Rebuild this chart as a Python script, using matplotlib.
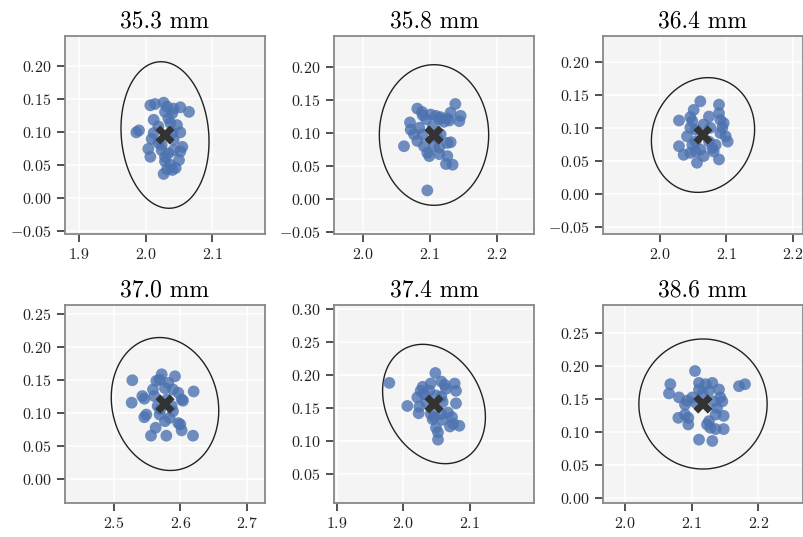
import numpy as np
import matplotlib
matplotlib.use("Agg")
import matplotlib.pyplot as plt
from matplotlib.patches import Polygon
from matplotlib.ticker import MultipleLocator

plt.rcParams["font.family"] = "cmr10"
plt.rcParams["mathtext.fontset"] = "cm"
plt.rcParams["axes.formatter.use_mathtext"] = True

titles = ["35.3 mm", "35.8 mm", "36.4 mm", "37.0 mm", "37.4 mm", "38.6 mm"]

p1_x = [2.007, 2.014, 2.027, 2.032, 2.029, 2.040, 2.052, 2.065, 2.012, 2.034, 2.047, 1.990, 1.986,
        2.012, 2.052, 2.009, 2.019, 2.042, 2.004, 2.007, 2.055, 2.052, 2.042, 2.034, 2.029, 2.050,
        2.032, 2.045, 2.040, 2.027, 2.037, 2.024, 2.019, 2.037, 2.024, 2.042, 2.040, 2.029]
p1_y = [0.141, 0.143, 0.145, 0.139, 0.131, 0.129, 0.138, 0.131, 0.119, 0.121, 0.111, 0.103, 0.100,
        0.099, 0.100, 0.090, 0.084, 0.089, 0.075, 0.063, 0.078, 0.071, 0.073, 0.068, 0.056, 0.058,
        0.044, 0.046, 0.043, 0.037, 0.051, 0.073, 0.109, 0.114, 0.081, 0.136, 0.099, 0.063]

p2_x = [2.081, 2.088, 2.089, 2.101, 2.109, 2.116, 2.126, 2.131, 2.138, 2.146, 2.144, 2.121, 2.070,
        2.071, 2.076, 2.089, 2.081, 2.061, 2.091, 2.096, 2.099, 2.114, 2.126, 2.131, 2.126, 2.114,
        2.124, 2.134, 2.096, 2.111, 2.116, 2.094, 2.104, 2.084, 2.106, 2.114, 2.129]
p2_y = [0.137, 0.132, 0.127, 0.128, 0.126, 0.124, 0.122, 0.131, 0.144, 0.126, 0.118, 0.117, 0.116,
        0.105, 0.098, 0.098, 0.088, 0.080, 0.080, 0.070, 0.065, 0.078, 0.085, 0.086, 0.065, 0.068,
        0.053, 0.052, 0.013, 0.093, 0.098, 0.121, 0.110, 0.108, 0.080, 0.121, 0.119]

p3_x = [2.061, 2.051, 2.089, 2.029, 2.046, 2.049, 2.074, 2.089, 2.091, 2.096, 2.076, 2.041, 2.054,
        2.091, 2.099, 2.102, 2.029, 2.036, 2.049, 2.054, 2.061, 2.066, 2.056, 2.079, 2.084, 2.089,
        2.081, 2.046, 2.054, 2.066, 2.094, 2.074, 2.046]
p3_y = [0.141, 0.128, 0.136, 0.112, 0.117, 0.111, 0.118, 0.123, 0.113, 0.108, 0.101, 0.088, 0.098,
        0.093, 0.088, 0.080, 0.073, 0.060, 0.075, 0.065, 0.068, 0.058, 0.048, 0.070, 0.075, 0.053,
        0.065, 0.101, 0.080, 0.106, 0.101, 0.080, 0.063]

p4_x = [2.528, 2.527, 2.543, 2.546, 2.549, 2.546, 2.564, 2.572, 2.569, 2.592, 2.577, 2.589, 2.597,
        2.602, 2.604, 2.620, 2.561, 2.566, 2.587, 2.569, 2.577, 2.584, 2.597, 2.600, 2.563, 2.556,
        2.579, 2.602, 2.619, 2.589, 2.582, 2.559, 2.580, 2.570]
p4_y = [0.149, 0.115, 0.125, 0.121, 0.097, 0.093, 0.148, 0.158, 0.150, 0.155, 0.137, 0.135, 0.130,
        0.120, 0.118, 0.132, 0.125, 0.110, 0.110, 0.097, 0.087, 0.092, 0.084, 0.082, 0.077, 0.065,
        0.065, 0.073, 0.065, 0.102, 0.145, 0.135, 0.120, 0.105]

p5_x = [1.979, 2.006, 2.048, 2.029, 2.026, 2.031, 2.041, 2.057, 2.062, 2.064, 2.077, 2.079, 2.021,
        2.024, 2.023, 2.057, 2.059, 2.079, 2.041, 2.046, 2.057, 2.059, 2.073, 2.075, 2.084, 2.070,
        2.049, 2.052, 2.052, 2.044, 2.034, 2.049, 2.039, 2.067]
p5_y = [0.188, 0.153, 0.203, 0.182, 0.176, 0.171, 0.187, 0.190, 0.185, 0.179, 0.187, 0.176, 0.166,
        0.152, 0.142, 0.167, 0.159, 0.157, 0.141, 0.136, 0.141, 0.132, 0.136, 0.126, 0.123, 0.122,
        0.120, 0.113, 0.102, 0.133, 0.159, 0.169, 0.176, 0.143]

p6_x = [2.105, 2.068, 2.066, 2.081, 2.093, 2.090, 2.101, 2.111, 2.111, 2.121, 2.131, 2.126, 2.141,
        2.171, 2.180, 2.143, 2.146, 2.138, 2.136, 2.148, 2.126, 2.123, 2.128, 2.136, 2.148, 2.080,
        2.090, 2.095, 2.095, 2.111, 2.131, 2.106, 2.133, 2.116]
p6_y = [0.193, 0.173, 0.159, 0.153, 0.148, 0.142, 0.153, 0.175, 0.165, 0.173, 0.175, 0.163, 0.165,
        0.170, 0.173, 0.153, 0.147, 0.137, 0.127, 0.125, 0.117, 0.112, 0.107, 0.105, 0.105, 0.122,
        0.127, 0.122, 0.112, 0.089, 0.087, 0.145, 0.147, 0.158]

xs = [p1_x, p2_x, p3_x, p4_x, p5_x, p6_x]
ys = [p1_y, p2_y, p3_y, p4_y, p5_y, p6_y]

# mean position (cross marker)
center_x = [2.029, 2.106, 2.065, 2.577, 2.046, 2.117]
center_y = [0.096, 0.097, 0.090, 0.113, 0.156, 0.143]

# ellipse: half extents along x/y and correlation
ell_hw = [0.066, 0.082, 0.0774, 0.0806, 0.0771, 0.0962]
ell_hh = [0.111, 0.1065, 0.0869, 0.1007, 0.0904, 0.0985]
ell_rho = [-0.09, 0.0, 0.10, -0.10, -0.22, 0.0]

HALF = 0.15
BLUE = "#4c72b0"

fig = plt.figure(figsize=(8.04, 5.37), dpi=100)
W, H = 804, 537
col_left = [65, 334, 603]
row_top = [36, 305]
aw, ah = 200, 198

t = np.linspace(0, 2 * np.pi, 300, endpoint=False)
for i in range(6):
    r, c = divmod(i, 3)
    ax = fig.add_axes([col_left[c] / W, 1 - (row_top[r] + ah) / H, aw / W, ah / H])
    ax.set_facecolor("#f4f4f4")
    ax.grid(True, color="white", lw=1.1, zorder=0)
    ax.set_axisbelow(True)
    for s in ax.spines.values():
        s.set_color("#888888")
        s.set_linewidth(1.3)
    ax.tick_params(direction="out", length=6, width=1.1, color="#222222",
                   labelsize=11.5, labelcolor="#222222")

    cx, cy = center_x[i], center_y[i]
    ex = cx + ell_hw[i] * np.cos(t)
    ey = cy + ell_hh[i] * (ell_rho[i] * np.cos(t) + np.sqrt(1 - ell_rho[i] ** 2) * np.sin(t))
    ax.add_patch(Polygon(np.column_stack([ex, ey]), closed=True, fill=False,
                         edgecolor="#222222", lw=1.0, zorder=2))

    ax.scatter(xs[i], ys[i], s=72, color=BLUE, alpha=0.8, edgecolors="none", zorder=3)
    ax.scatter([cx], [cy], marker="X", s=190, color="#333333", edgecolors="none", zorder=4)

    ax.set_xlim(cx - HALF, cx + HALF)
    ax.set_ylim(cy - HALF, cy + HALF)
    ax.xaxis.set_major_locator(MultipleLocator(0.1))
    ax.yaxis.set_major_locator(MultipleLocator(0.05))
    ax.set_title(titles[i], fontsize=17, pad=6)

fig.savefig("out.png", dpi=100)
